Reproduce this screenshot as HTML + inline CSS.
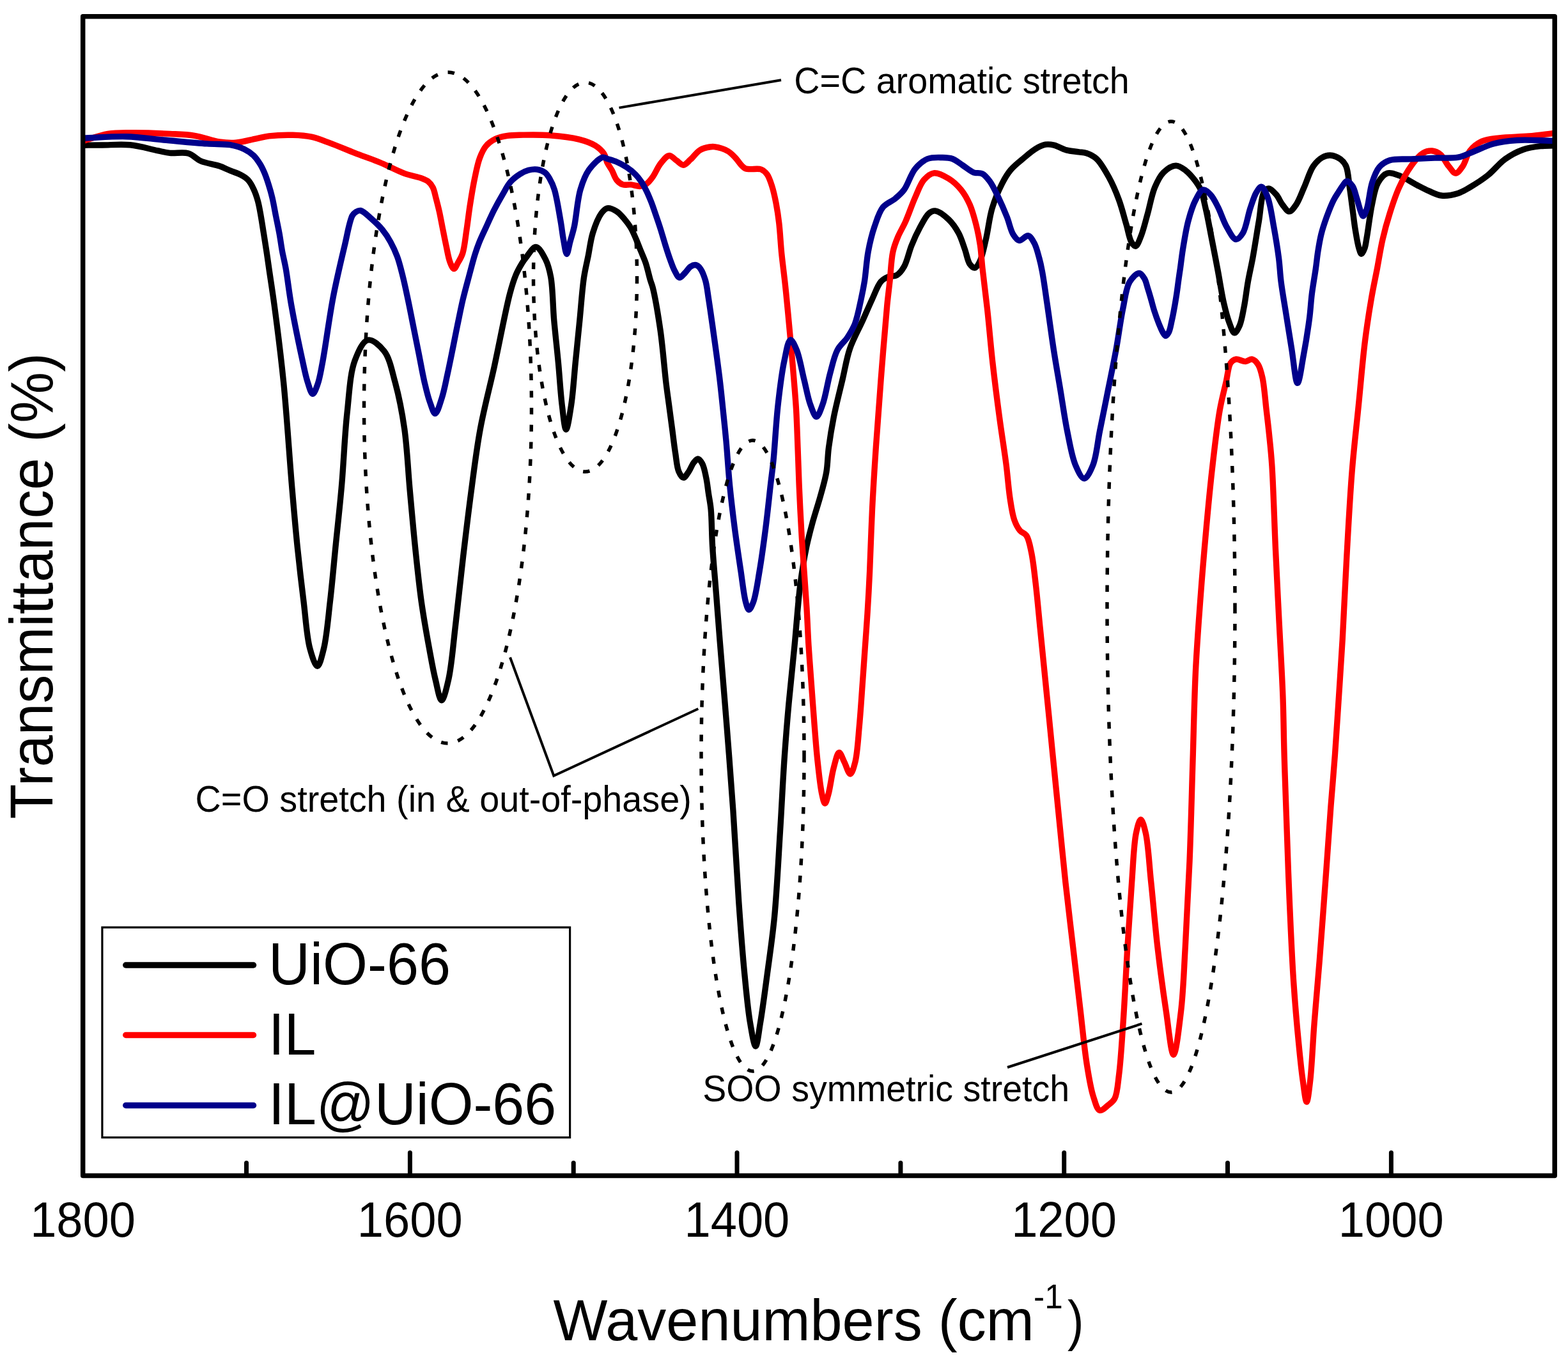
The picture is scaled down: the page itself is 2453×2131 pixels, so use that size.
<!DOCTYPE html><html><head><meta charset="utf-8"><title>FTIR spectra</title>
<style>html,body{margin:0;padding:0;background:#fff;}svg{display:block;}text{font-family:'Liberation Sans', Arial, Helvetica, sans-serif;fill:#000;}</style></head><body>
<svg width="2453" height="2131" viewBox="0 0 2453 2131">
<rect x="0" y="0" width="2453" height="2131" fill="#fff"/>
<defs><clipPath id="pa"><rect x="129.7" y="25.8" width="2302.5" height="1813.6"/></clipPath></defs>
<g clip-path="url(#pa)" fill="none" stroke-width="9.4" stroke-linejoin="round" stroke-linecap="round">
<path stroke="#000000" d="M129.0,227.2 C139.3,227.1 148.8,227.1 160.0,227.0 C173.3,226.9 189.3,225.4 203.7,226.8 C218.1,228.2 234.9,233.3 246.3,235.6 C254.0,237.2 258.5,238.6 265.7,239.4 C274.4,240.3 286.4,237.5 294.8,240.0 C302.3,242.2 306.8,248.8 314.2,252.0 C322.7,255.7 335.0,256.9 343.3,259.8 C349.7,262.0 354.4,264.6 360.0,266.9 C365.6,269.2 371.8,271.0 376.7,273.6 C381.0,275.9 384.7,278.0 387.9,281.4 C391.5,285.2 394.3,290.6 396.8,295.9 C399.6,301.7 401.7,308.2 403.5,314.9 C405.4,322.0 406.6,329.3 408.0,337.2 C409.6,346.0 411.0,355.8 412.5,365.1 C414.0,374.4 415.5,383.8 416.9,393.0 C418.3,402.1 419.3,409.3 420.8,420.0 C423.0,435.5 426.1,454.4 429.1,477.0 C433.5,509.8 439.2,554.5 443.6,598.1 C448.7,649.2 452.9,717.6 457.0,765.0 C460.0,800.2 462.3,827.0 465.4,857.0 C468.4,885.9 471.7,914.6 475.1,941.8 C478.2,967.0 479.8,996.2 484.8,1014.5 C488.0,1026.2 492.9,1042.5 496.5,1042.4 C500.1,1042.3 503.7,1026.2 506.6,1014.5 C511.1,996.1 513.4,967.0 516.3,941.8 C519.5,914.6 521.9,886.2 524.8,857.0 C527.9,825.8 531.6,793.6 534.5,760.0 C537.7,723.7 539.2,681.3 543.0,646.6 C546.3,616.9 547.4,584.7 555.1,564.2 C560.3,550.3 567.5,533.6 575.7,532.0 C583.1,530.5 594.5,540.9 601.2,549.7 C609.8,561.0 613.2,580.1 618.1,598.1 C624.0,619.7 629.0,644.9 632.7,670.8 C636.9,700.1 638.2,733.8 641.0,765.0 C643.8,795.9 646.5,827.0 649.6,857.0 C652.6,885.9 655.5,914.7 659.3,941.8 C662.9,967.0 667.5,992.7 671.5,1014.5 C674.8,1032.3 677.5,1048.5 681.1,1063.0 C684.1,1075.0 687.4,1095.6 690.8,1095.7 C694.2,1095.8 698.6,1076.6 701.7,1063.0 C706.6,1041.5 709.0,1008.2 712.6,978.1 C716.7,944.0 720.6,904.6 724.8,869.1 C728.8,835.3 732.6,803.0 737.0,770.0 C741.4,736.9 745.3,703.6 751.4,670.8 C757.4,638.2 765.8,607.5 773.2,573.9 C781.2,537.5 790.7,485.6 797.5,460.0 C801.0,446.7 803.5,438.7 807.1,430.0 C810.1,422.9 813.9,416.4 816.9,411.5 C819.0,408.1 820.2,406.4 822.7,403.3 C826.6,398.6 833.4,386.2 838.5,386.5 C843.7,386.8 849.7,398.5 853.5,406.0 C857.6,414.1 859.6,422.2 861.7,433.5 C864.9,450.8 864.8,478.2 866.7,500.5 C868.7,522.8 871.3,545.2 873.4,567.5 C875.5,589.8 876.9,615.4 879.3,634.5 C881.1,648.8 883.1,671.9 885.5,672.0 C887.9,672.1 891.3,648.9 893.5,634.5 C896.5,615.5 898.0,589.8 900.2,567.5 C902.4,545.2 904.7,522.8 906.9,500.5 C909.1,478.2 910.8,451.9 913.6,433.5 C915.6,420.4 918.0,411.3 920.3,400.0 C922.6,388.3 923.9,375.8 927.4,364.5 C930.8,353.6 936.0,340.1 940.9,333.5 C943.8,329.6 946.4,326.5 950.0,325.8 C954.1,325.0 960.3,328.0 964.7,330.7 C969.4,333.6 973.3,338.6 977.0,343.0 C980.6,347.3 983.9,351.5 986.8,356.5 C990.1,362.0 992.7,368.7 995.4,374.9 C998.0,381.0 1000.3,387.2 1002.8,393.3 C1005.3,399.4 1007.9,404.9 1010.2,411.7 C1012.9,419.8 1015.4,431.7 1017.5,438.7 C1018.9,443.3 1019.8,444.6 1021.2,450.0 C1024.4,462.9 1029.6,492.9 1033.0,516.3 C1036.8,542.5 1039.4,577.8 1042.1,600.0 C1043.9,614.8 1045.4,624.5 1047.0,636.8 C1048.6,649.1 1050.3,661.4 1051.9,673.7 C1053.5,686.0 1055.0,699.2 1056.8,710.5 C1058.3,720.2 1058.9,731.0 1061.8,737.6 C1063.7,742.0 1066.5,747.3 1069.1,747.4 C1071.8,747.5 1075.1,741.3 1077.7,737.6 C1080.5,733.6 1082.4,727.5 1085.1,724.0 C1087.2,721.3 1089.6,717.8 1091.8,717.9 C1094.1,718.0 1096.7,721.9 1098.6,725.3 C1101.5,730.5 1103.1,739.8 1104.7,747.4 C1106.4,755.3 1107.2,763.7 1108.4,771.9 C1109.6,780.1 1111.1,786.5 1112.1,796.5 C1113.6,811.8 1113.3,834.1 1114.6,855.0 C1116.1,879.1 1118.8,907.7 1120.7,932.7 C1122.5,955.9 1123.8,973.7 1125.9,1000.0 C1128.8,1037.1 1133.3,1089.3 1136.8,1134.0 C1140.3,1178.7 1143.8,1222.6 1146.9,1268.0 C1150.1,1315.0 1152.6,1366.8 1155.8,1411.6 C1158.6,1451.2 1161.4,1489.3 1164.7,1523.2 C1167.5,1551.6 1170.0,1580.4 1173.7,1601.3 C1176.2,1615.6 1179.5,1637.0 1182.1,1637.0 C1184.7,1637.0 1186.9,1615.5 1189.3,1601.3 C1192.9,1580.3 1196.8,1550.1 1200.4,1523.2 C1204.2,1494.4 1208.5,1466.7 1211.6,1433.9 C1215.4,1393.8 1217.8,1343.0 1220.5,1300.0 C1223.0,1260.0 1224.8,1219.7 1227.3,1184.2 C1229.4,1154.0 1231.4,1128.9 1234.0,1100.5 C1236.7,1070.9 1240.0,1040.7 1243.0,1010.0 C1246.1,978.3 1248.4,941.4 1252.1,913.3 C1255.0,891.4 1258.2,872.5 1261.8,855.1 C1264.8,840.8 1268.0,829.2 1271.5,816.3 C1275.1,803.4 1279.5,790.5 1283.1,777.6 C1286.6,764.7 1290.6,751.8 1292.8,738.8 C1295.0,725.9 1294.7,713.6 1296.5,700.0 C1298.5,684.8 1301.1,668.8 1304.4,652.1 C1308.1,633.6 1313.6,612.4 1318.0,593.9 C1322.0,577.0 1324.3,560.8 1329.6,545.4 C1334.7,530.5 1342.9,516.3 1349.0,502.8 C1354.5,490.6 1359.4,478.8 1364.5,467.9 C1369.1,458.2 1372.9,446.6 1378.1,440.7 C1381.6,436.7 1385.5,434.7 1389.7,433.0 C1393.8,431.4 1398.9,432.9 1402.8,430.7 C1407.3,428.1 1411.0,423.1 1414.4,417.2 C1419.2,408.9 1421.7,394.8 1426.0,384.2 C1430.1,374.1 1434.8,363.9 1439.6,355.1 C1443.9,347.3 1448.4,337.8 1453.2,333.8 C1456.3,331.2 1459.1,329.5 1462.9,329.9 C1468.7,330.4 1478.1,337.8 1484.2,343.5 C1490.4,349.4 1495.5,357.1 1499.7,364.8 C1503.9,372.6 1506.4,381.7 1509.4,390.0 C1512.2,397.9 1513.7,408.4 1517.2,413.3 C1519.4,416.4 1522.5,419.4 1524.9,419.1 C1527.7,418.8 1530.4,414.0 1532.7,409.4 C1536.7,401.6 1539.4,387.1 1542.4,374.5 C1545.9,359.7 1547.6,341.1 1552.1,326.0 C1556.2,312.2 1562.1,298.1 1567.6,287.3 C1571.9,278.9 1575.5,272.5 1581.1,265.9 C1587.0,258.8 1595.6,252.3 1602.5,246.5 C1608.5,241.5 1614.1,236.5 1619.9,233.0 C1625.0,229.9 1630.3,227.1 1635.4,226.2 C1640.0,225.4 1644.2,226.0 1649.0,227.1 C1655.0,228.5 1661.8,233.1 1668.4,234.9 C1674.8,236.6 1682.1,236.9 1687.8,237.8 C1692.3,238.5 1695.8,238.2 1700.0,239.7 C1705.0,241.4 1710.6,243.9 1715.5,248.5 C1722.4,254.9 1729.2,267.2 1734.9,277.6 C1740.9,288.5 1745.9,300.4 1750.4,312.5 C1755.0,324.9 1758.5,339.4 1762.0,351.2 C1764.9,361.1 1766.4,372.6 1769.8,378.4 C1771.8,381.8 1774.4,385.5 1776.6,385.2 C1779.6,384.7 1782.6,375.3 1785.3,368.7 C1788.9,359.7 1791.7,347.4 1795.0,335.7 C1798.8,322.4 1801.6,304.9 1806.6,293.1 C1810.5,283.9 1814.3,275.6 1820.2,269.8 C1825.5,264.6 1833.5,259.2 1839.6,259.1 C1845.0,259.0 1850.4,263.4 1855.1,266.9 C1860.1,270.7 1864.8,276.3 1868.7,281.4 C1872.5,286.3 1875.7,290.7 1878.4,296.9 C1881.9,304.9 1883.6,315.0 1886.1,326.0 C1889.4,340.1 1892.6,358.2 1895.8,374.5 C1899.1,391.2 1902.3,408.2 1905.5,425.0 C1908.6,441.7 1911.4,460.6 1914.7,474.9 C1917.3,486.0 1919.6,495.7 1922.8,504.0 C1925.3,510.5 1928.2,520.7 1931.2,520.9 C1933.7,521.1 1936.9,514.6 1939.1,509.8 C1942.4,502.6 1944.0,491.3 1946.1,480.7 C1948.6,468.3 1950.1,453.2 1952.5,440.0 C1954.7,427.5 1957.3,417.2 1959.8,403.6 C1962.9,386.5 1966.4,363.5 1969.5,345.4 C1972.2,329.5 1972.7,308.4 1977.3,300.8 C1979.4,297.3 1982.2,294.9 1985.0,295.0 C1988.5,295.1 1993.3,300.8 1996.7,304.7 C2000.5,309.0 2002.7,315.7 2006.3,320.2 C2009.6,324.3 2013.4,330.9 2017.0,330.9 C2020.6,330.9 2024.4,324.9 2027.7,320.2 C2032.3,313.6 2035.8,302.9 2040.0,293.5 C2044.7,283.0 2048.8,268.3 2054.5,260.0 C2058.7,254.0 2063.5,249.3 2068.4,246.5 C2072.4,244.2 2076.6,242.8 2081.0,243.0 C2086.0,243.2 2092.6,245.9 2096.8,248.9 C2100.7,251.7 2103.5,254.9 2105.8,260.0 C2109.3,267.9 2109.7,282.3 2111.4,293.5 C2113.1,304.7 2114.4,315.8 2115.9,327.0 C2117.4,338.1 2118.6,349.8 2120.4,360.4 C2122.0,370.1 2123.8,381.6 2125.9,388.3 C2127.1,392.2 2128.3,397.2 2129.8,397.3 C2131.3,397.4 2133.6,391.9 2134.9,388.3 C2136.6,383.7 2136.9,378.7 2138.2,371.6 C2140.5,359.0 2143.2,334.3 2146.6,318.9 C2149.3,306.5 2150.9,294.2 2155.8,285.8 C2159.6,279.3 2164.8,272.7 2170.5,271.0 C2175.9,269.4 2182.3,272.3 2188.9,274.7 C2197.4,277.8 2208.3,285.2 2216.6,289.5 C2223.3,293.0 2228.6,296.0 2235.0,298.7 C2241.5,301.5 2248.0,305.2 2255.2,306.0 C2263.2,306.8 2273.3,304.8 2281.0,302.4 C2287.9,300.3 2292.8,297.0 2299.5,293.1 C2307.9,288.2 2318.2,281.8 2327.1,274.7 C2336.6,267.2 2345.0,255.8 2354.7,248.9 C2363.5,242.6 2372.8,237.6 2382.3,234.2 C2391.3,231.0 2401.3,229.7 2410.0,228.7 C2417.7,227.8 2424.7,228.1 2432.0,227.8"/>
<path stroke="#ff0000" d="M129.0,221.0 C142.3,217.1 155.5,211.6 168.8,209.4 C181.7,207.3 193.4,207.9 207.6,207.8 C225.0,207.7 248.3,208.5 265.7,209.4 C279.9,210.1 291.7,210.2 304.5,212.3 C317.5,214.4 331.7,220.3 343.3,222.0 C352.5,223.4 359.7,223.9 368.5,223.3 C378.5,222.6 390.6,219.0 400.0,217.1 C407.7,215.6 412.8,213.9 420.8,212.9 C431.4,211.6 446.5,211.0 458.2,211.3 C468.5,211.6 477.7,212.1 487.3,214.2 C497.1,216.3 506.0,220.1 516.3,223.9 C528.4,228.3 542.1,234.4 555.1,239.4 C568.0,244.4 581.0,248.7 593.9,254.0 C606.9,259.4 620.8,267.1 632.7,271.4 C642.5,274.9 653.2,276.5 660.0,279.1 C664.3,280.7 667.2,281.8 670.0,284.1 C672.9,286.4 675.2,289.4 677.1,293.1 C679.5,297.7 680.5,304.3 682.1,310.2 C683.8,316.6 685.5,323.2 687.1,330.3 C688.9,338.2 690.3,346.7 692.1,355.4 C694.0,365.0 696.1,375.9 698.2,385.5 C700.1,394.3 701.6,404.3 704.2,410.6 C705.9,414.9 708.1,420.6 710.2,420.6 C712.2,420.6 714.4,414.6 716.5,411.0 C719.0,406.7 721.7,402.6 723.7,396.5 C726.7,387.3 728.0,372.4 729.9,360.0 C731.9,347.0 733.3,333.5 735.4,320.2 C737.5,306.8 739.7,292.7 742.4,280.0 C744.9,268.3 747.1,256.0 750.7,246.7 C753.5,239.4 756.2,233.2 760.5,228.2 C764.5,223.5 769.8,219.8 775.3,217.2 C780.9,214.5 787.1,213.3 793.7,212.3 C801.2,211.1 808.9,211.3 818.2,211.1 C830.3,210.9 845.8,210.6 860.0,211.7 C875.0,212.8 893.1,214.8 906.0,218.1 C915.8,220.6 924.4,223.6 931.2,227.8 C936.8,231.3 941.6,235.7 944.8,240.4 C947.7,244.7 947.9,250.1 950.0,254.6 C952.1,258.9 955.0,262.5 957.4,266.8 C959.9,271.4 961.5,277.8 964.7,281.6 C967.4,284.9 970.9,287.7 974.6,288.9 C978.3,290.1 982.6,288.5 986.8,288.9 C991.5,289.3 997.2,291.8 1001.6,291.4 C1005.3,291.0 1008.4,289.8 1011.4,287.7 C1015.0,285.2 1018.0,281.1 1021.2,276.7 C1025.4,271.0 1028.8,261.6 1033.5,255.8 C1037.6,250.8 1042.6,243.8 1047.0,243.5 C1050.8,243.2 1054.4,248.4 1058.1,250.9 C1061.8,253.3 1065.5,258.3 1069.1,258.2 C1072.8,258.1 1076.4,253.0 1080.2,249.6 C1084.9,245.5 1089.5,238.2 1094.9,234.9 C1099.6,232.0 1105.8,230.7 1110.0,230.0 C1112.9,229.5 1114.3,229.3 1117.4,229.7 C1122.7,230.4 1133.0,233.3 1138.7,236.5 C1143.4,239.1 1146.0,242.4 1150.0,246.3 C1154.9,251.1 1159.0,260.2 1165.6,263.4 C1172.4,266.7 1184.5,262.6 1190.6,265.0 C1194.8,266.7 1197.4,269.2 1200.0,272.8 C1203.4,277.4 1205.6,284.7 1207.8,291.6 C1210.4,299.6 1212.3,308.9 1214.1,318.1 C1216.0,328.1 1217.5,337.9 1218.8,349.4 C1220.4,363.4 1221.2,380.7 1222.7,396.3 C1224.3,411.9 1226.4,427.5 1228.1,443.1 C1229.8,458.7 1231.1,472.1 1232.8,490.0 C1235.1,514.0 1238.2,548.1 1240.4,574.5 C1242.3,597.7 1244.2,618.6 1245.5,640.0 C1246.7,660.4 1247.2,680.2 1248.0,700.0 C1248.8,719.5 1249.2,737.4 1250.1,758.2 C1251.1,782.2 1252.6,811.7 1254.0,835.7 C1255.2,856.5 1256.7,874.5 1258.0,893.9 C1259.3,913.3 1260.8,932.7 1262.0,952.1 C1263.2,971.4 1263.8,990.8 1265.0,1010.0 C1266.2,1029.1 1267.7,1047.2 1269.1,1067.0 C1270.7,1088.4 1272.4,1112.4 1274.1,1134.0 C1275.7,1154.2 1277.1,1173.8 1279.2,1192.6 C1281.1,1210.0 1283.2,1231.3 1285.9,1242.8 C1287.3,1249.1 1288.9,1257.0 1290.6,1257.0 C1292.3,1257.0 1294.2,1248.9 1295.9,1242.8 C1298.8,1232.6 1301.0,1212.8 1304.3,1201.0 C1306.8,1191.9 1309.6,1177.7 1312.7,1177.5 C1315.3,1177.3 1318.2,1187.3 1321.0,1192.6 C1324.0,1198.4 1327.4,1211.1 1330.2,1211.0 C1333.0,1210.9 1335.7,1200.6 1337.8,1192.6 C1341.4,1178.7 1342.6,1154.2 1344.5,1134.0 C1346.5,1112.4 1347.9,1088.4 1349.5,1067.0 C1350.9,1047.2 1352.2,1028.4 1353.5,1010.0 C1354.7,992.8 1355.9,977.8 1357.0,960.0 C1358.3,939.5 1359.5,918.0 1360.6,893.9 C1362.0,864.7 1362.9,829.2 1364.5,796.9 C1366.1,764.6 1368.1,733.0 1370.3,700.0 C1372.6,665.4 1375.3,630.1 1378.1,593.9 C1381.1,556.0 1385.1,505.7 1387.8,477.6 C1389.4,461.6 1390.6,453.2 1392.0,440.0 C1393.6,425.4 1394.1,406.5 1396.9,393.9 C1398.9,384.7 1401.5,378.2 1404.7,370.6 C1408.0,362.7 1412.3,356.2 1416.3,347.4 C1421.3,336.2 1426.6,320.3 1431.8,308.6 C1436.3,298.6 1439.7,287.9 1445.4,281.4 C1449.9,276.3 1455.0,271.5 1460.9,270.8 C1467.7,270.0 1477.1,275.2 1484.2,279.5 C1491.4,283.9 1498.1,290.2 1503.6,296.9 C1509.2,303.7 1513.4,311.6 1517.2,320.2 C1521.3,329.6 1524.2,340.6 1526.9,351.2 C1529.7,362.0 1531.8,372.9 1533.5,384.2 C1535.2,395.8 1535.5,406.4 1537.0,420.0 C1539.0,438.2 1542.0,460.9 1544.5,483.6 C1547.4,509.8 1549.8,540.1 1553.0,568.4 C1556.2,596.7 1559.9,626.0 1563.6,653.3 C1567.0,678.9 1571.3,704.9 1574.2,727.5 C1576.6,746.5 1577.7,764.5 1580.1,780.0 C1582.0,792.5 1583.6,804.4 1586.8,813.5 C1589.2,820.2 1592.1,826.0 1595.7,830.2 C1598.6,833.7 1603.1,834.0 1605.8,838.0 C1609.8,843.9 1611.4,854.4 1613.6,864.8 C1616.5,878.6 1618.2,896.3 1620.3,914.0 C1622.7,934.6 1624.8,958.7 1627.0,981.0 C1629.2,1003.3 1631.5,1025.6 1633.7,1047.9 C1635.9,1070.2 1638.2,1092.7 1640.4,1114.9 C1642.6,1136.8 1644.4,1156.0 1646.8,1180.0 C1649.8,1209.9 1653.5,1246.9 1656.8,1280.4 C1660.2,1313.9 1663.3,1347.3 1666.9,1380.8 C1670.5,1414.3 1674.7,1447.8 1678.6,1481.3 C1682.5,1514.8 1686.5,1549.8 1690.3,1581.7 C1693.7,1610.9 1696.4,1641.1 1700.3,1665.4 C1703.3,1684.3 1706.1,1702.5 1710.4,1715.6 C1713.3,1724.5 1715.9,1735.9 1720.4,1737.3 C1724.1,1738.4 1729.8,1732.2 1733.8,1729.0 C1737.6,1726.0 1741.2,1723.9 1743.8,1718.9 C1748.0,1710.8 1748.6,1696.9 1750.5,1682.1 C1753.4,1659.9 1755.1,1628.6 1757.2,1598.4 C1759.7,1562.6 1761.6,1518.8 1763.9,1481.3 C1766.1,1446.5 1768.2,1412.1 1770.6,1380.8 C1772.7,1353.4 1773.6,1321.4 1777.3,1303.8 C1779.3,1294.2 1782.2,1282.1 1784.7,1282.1 C1787.2,1282.1 1790.2,1294.2 1792.4,1303.8 C1796.4,1321.4 1797.9,1353.4 1800.8,1380.8 C1804.1,1412.1 1806.9,1447.8 1810.8,1481.3 C1814.7,1514.8 1819.6,1551.4 1824.2,1581.7 C1828.0,1606.8 1832.0,1650.3 1835.9,1650.3 C1839.8,1650.3 1844.6,1606.8 1847.6,1581.7 C1851.2,1551.5 1852.2,1517.2 1854.3,1481.3 C1856.7,1439.9 1859.1,1393.8 1861.0,1347.4 C1863.1,1297.1 1864.4,1240.8 1866.0,1190.0 C1867.5,1142.3 1868.3,1095.2 1870.4,1051.2 C1872.3,1011.3 1875.1,975.2 1877.9,937.3 C1880.7,899.3 1884.1,859.7 1887.4,823.5 C1890.4,790.4 1893.3,759.6 1896.9,728.7 C1900.3,699.0 1904.0,665.5 1908.3,641.4 C1911.4,624.0 1915.2,610.2 1918.2,597.0 C1920.7,586.3 1921.3,573.7 1925.1,568.0 C1927.3,564.7 1930.0,562.8 1933.3,562.1 C1937.4,561.3 1943.8,565.8 1948.4,565.6 C1952.2,565.4 1955.7,561.4 1958.9,562.1 C1962.3,562.8 1965.7,566.5 1968.2,570.3 C1971.5,575.3 1973.1,582.5 1975.0,591.0 C1977.8,603.8 1979.2,624.5 1981.0,640.0 C1982.6,654.0 1984.1,666.0 1985.5,680.0 C1987.1,695.4 1988.6,708.5 1989.9,728.7 C1992.1,762.1 1993.6,818.9 1995.6,861.5 C1997.4,900.9 1999.3,937.4 2001.2,975.3 C2003.1,1013.2 2005.6,1053.3 2006.9,1089.1 C2008.1,1121.1 2008.2,1149.2 2009.1,1180.0 C2010.0,1211.9 2011.2,1242.5 2012.4,1277.2 C2013.8,1317.3 2015.3,1363.5 2017.2,1406.7 C2019.1,1449.9 2021.0,1496.2 2023.7,1536.3 C2026.0,1571.0 2029.0,1605.2 2031.8,1633.4 C2033.9,1655.3 2035.9,1675.1 2038.3,1691.7 C2040.1,1704.1 2042.2,1724.1 2044.1,1724.1 C2046.0,1724.1 2048.0,1705.3 2049.6,1691.7 C2052.3,1669.1 2053.7,1631.7 2056.1,1601.0 C2058.6,1569.2 2061.5,1538.6 2064.2,1503.9 C2067.4,1463.8 2070.8,1416.1 2073.9,1374.3 C2076.8,1335.3 2079.4,1295.6 2082.0,1261.0 C2084.2,1231.7 2086.5,1207.7 2088.5,1180.0 C2090.6,1150.8 2092.5,1119.9 2094.5,1090.0 C2096.4,1060.2 2098.3,1033.3 2100.2,1000.7 C2102.5,961.1 2104.4,913.3 2106.9,869.3 C2109.4,824.8 2111.9,776.7 2115.3,735.2 C2118.2,699.3 2122.0,668.2 2125.3,634.7 C2128.7,601.2 2131.6,564.2 2135.4,534.1 C2138.5,509.4 2141.9,487.3 2145.4,467.0 C2148.3,449.9 2151.5,435.6 2154.5,420.0 C2157.4,404.6 2159.7,388.9 2163.1,374.2 C2166.3,360.2 2169.9,347.1 2174.2,333.7 C2178.5,320.1 2183.1,305.7 2188.9,293.1 C2194.3,281.3 2200.7,269.4 2207.4,260.0 C2213.1,252.0 2219.4,243.5 2225.8,239.7 C2230.6,236.8 2235.8,235.6 2240.5,236.0 C2245.0,236.4 2249.5,238.4 2253.4,241.6 C2258.3,245.6 2261.9,254.8 2266.3,260.0 C2269.9,264.3 2273.6,271.0 2277.3,271.0 C2281.0,271.0 2285.1,264.7 2288.4,260.0 C2292.7,253.8 2294.4,242.6 2299.5,236.0 C2304.4,229.8 2310.7,224.7 2317.9,221.3 C2325.8,217.6 2335.1,217.1 2345.5,215.8 C2358.9,214.1 2376.8,214.3 2391.6,213.0 C2405.5,211.8 2418.5,209.9 2432.0,208.4"/>
<path stroke="#00008b" d="M129.0,216.2 C152.0,215.4 175.9,213.1 197.9,213.7 C218.1,214.3 235.9,217.2 256.0,219.0 C277.7,220.9 304.8,223.6 323.9,224.9 C337.8,225.9 349.5,224.9 360.0,226.7 C368.4,228.2 375.9,230.3 382.3,233.4 C387.9,236.1 392.7,239.4 396.8,243.4 C400.8,247.3 404.0,252.2 406.9,256.8 C409.6,261.1 411.5,265.3 413.6,270.2 C416.0,275.9 418.3,282.7 420.3,289.2 C422.4,295.8 424.2,302.0 425.9,309.3 C427.9,317.8 429.6,327.9 431.4,337.2 C433.3,346.5 435.3,355.8 437.0,365.1 C438.7,374.4 439.8,383.8 441.5,393.0 C443.2,402.1 445.2,409.3 447.1,420.0 C449.9,435.5 452.0,456.2 455.7,477.0 C460.2,502.5 467.9,539.7 472.7,561.8 C475.8,576.1 477.8,587.1 481.0,597.0 C483.5,604.5 486.4,616.2 489.2,616.3 C491.7,616.4 494.8,607.2 497.0,601.0 C500.1,592.4 501.5,582.8 504.2,569.0 C509.0,544.3 515.0,497.1 521.2,464.8 C526.7,436.3 533.5,408.1 539.0,385.0 C543.3,367.1 546.7,345.4 551.2,337.4 C553.1,334.1 554.8,332.8 557.0,331.5 C559.1,330.2 561.4,329.0 564.2,329.5 C568.9,330.4 575.7,337.6 581.2,342.4 C587.0,347.5 593.1,353.2 598.1,359.3 C603.0,365.3 607.1,371.5 610.9,378.4 C614.9,385.6 618.4,393.3 621.5,401.7 C624.9,410.9 627.2,420.8 629.9,431.4 C632.9,443.3 635.6,456.4 638.4,469.5 C641.3,483.2 644.1,497.8 646.9,511.9 C649.7,526.0 652.6,540.2 655.4,554.3 C658.2,568.4 660.8,583.6 663.8,596.7 C666.5,608.1 669.0,619.4 672.3,628.5 C674.9,635.6 677.9,647.0 680.8,647.0 C684.2,647.0 688.4,631.3 691.4,622.1 C694.9,611.3 697.1,598.7 699.9,586.1 C702.9,572.4 706.0,556.7 708.8,543.0 C711.3,530.5 713.5,519.1 716.0,507.0 C718.6,494.6 721.1,481.7 724.0,469.3 C726.9,457.2 730.1,445.5 733.3,433.6 C736.5,421.7 740.0,407.7 743.1,397.9 C745.3,390.9 746.9,386.3 749.4,380.0 C752.4,372.5 756.4,364.2 760.2,356.0 C764.2,347.2 768.4,337.6 772.8,328.9 C777.1,320.5 781.8,312.1 786.3,304.4 C790.4,297.4 793.8,290.2 798.6,284.7 C802.9,279.7 808.3,275.7 813.3,272.5 C817.7,269.7 822.2,267.5 826.8,266.3 C831.2,265.1 836.0,264.5 840.3,265.1 C844.6,265.7 849.3,267.5 852.6,270.0 C855.8,272.4 857.7,275.9 860.0,279.8 C862.8,284.5 865.1,289.4 867.3,296.6 C871.0,308.4 874.4,330.9 876.9,345.1 C878.9,356.2 879.7,365.8 881.5,375.0 C883.0,383.1 884.8,397.5 886.6,397.5 C888.3,397.5 890.1,384.8 892.0,378.0 C894.0,370.6 896.2,364.3 898.3,354.8 C901.6,339.8 903.2,312.7 908.0,296.6 C911.6,284.4 915.3,274.2 921.5,265.6 C927.2,257.7 937.4,247.4 942.9,246.2 C945.7,245.6 947.2,247.5 950.0,248.4 C954.0,249.7 959.8,251.2 964.7,253.3 C970.0,255.6 975.7,258.6 980.7,261.9 C985.6,265.2 990.2,269.0 994.2,273.0 C998.0,276.8 1001.1,281.0 1004.0,285.3 C1006.8,289.6 1009.0,294.0 1011.4,298.8 C1014.0,304.1 1016.4,310.0 1018.8,316.0 C1021.4,322.6 1023.7,329.8 1026.1,336.8 C1028.6,344.0 1031.1,351.3 1033.5,358.9 C1036.0,366.9 1038.4,375.5 1040.9,383.5 C1043.3,391.1 1045.6,398.6 1048.2,405.6 C1050.6,412.1 1052.8,418.9 1055.6,424.0 C1057.8,428.1 1060.2,434.1 1063.0,434.4 C1065.6,434.7 1068.8,429.7 1071.6,427.0 C1074.6,424.1 1077.0,419.2 1080.2,417.2 C1082.8,415.5 1086.2,414.1 1088.8,414.7 C1091.5,415.3 1094.0,418.0 1096.1,420.9 C1099.1,425.1 1101.5,431.9 1103.5,438.7 C1106.0,447.1 1106.7,456.1 1108.6,467.9 C1111.4,485.8 1115.3,514.0 1118.3,535.7 C1121.1,555.8 1123.7,574.7 1126.0,593.9 C1128.3,612.8 1130.2,632.9 1132.0,650.0 C1133.5,664.5 1134.6,674.9 1136.0,690.0 C1137.8,709.7 1139.3,735.5 1141.5,758.2 C1143.7,780.9 1146.4,803.4 1149.3,826.0 C1152.2,848.6 1155.9,873.2 1159.0,893.9 C1161.6,911.4 1163.7,931.9 1166.7,942.4 C1168.2,947.7 1169.7,953.9 1171.6,954.0 C1173.6,954.1 1176.3,947.8 1178.4,942.4 C1182.4,932.0 1185.1,911.5 1188.1,893.9 C1191.6,873.2 1194.9,848.6 1197.8,826.0 C1200.7,803.4 1203.3,777.6 1205.5,758.2 C1207.2,743.7 1208.5,735.3 1210.0,720.0 C1212.3,696.8 1214.1,659.9 1217.2,632.7 C1219.9,608.6 1222.9,583.3 1226.9,564.8 C1229.7,551.7 1232.6,532.3 1236.5,531.8 C1239.4,531.4 1243.3,540.5 1246.2,547.4 C1250.9,558.5 1254.2,579.1 1257.9,593.9 C1261.3,607.4 1263.7,622.2 1267.6,632.7 C1270.5,640.5 1274.1,652.1 1277.3,652.1 C1280.5,652.1 1284.0,640.8 1287.0,632.7 C1291.5,620.4 1294.5,599.2 1298.6,584.2 C1302.2,571.0 1304.9,557.3 1310.2,547.4 C1314.4,539.4 1321.2,534.8 1325.7,528.0 C1330.2,521.2 1334.1,515.0 1337.4,506.6 C1341.6,495.8 1344.5,479.8 1347.1,467.9 C1349.3,457.9 1350.8,450.5 1352.5,440.0 C1354.6,426.6 1355.5,408.5 1358.2,393.9 C1360.7,380.3 1363.8,367.2 1367.9,355.1 C1371.7,344.0 1375.1,331.8 1381.4,324.1 C1386.6,317.7 1395.1,315.3 1400.8,310.5 C1405.9,306.2 1410.0,302.8 1414.4,296.9 C1420.5,288.6 1424.8,272.4 1431.8,264.0 C1437.5,257.1 1444.0,251.4 1451.2,248.5 C1458.2,245.7 1467.5,246.4 1474.5,246.5 C1480.2,246.6 1485.0,246.7 1490.0,248.5 C1495.4,250.4 1500.2,254.8 1505.5,258.2 C1511.2,261.9 1517.3,267.6 1523.0,269.8 C1527.6,271.5 1532.5,269.7 1536.5,271.7 C1541.0,273.9 1544.5,278.4 1548.2,283.4 C1553.1,289.9 1557.5,299.7 1561.8,308.6 C1566.5,318.3 1571.3,329.5 1575.3,339.6 C1579.0,348.9 1580.9,360.2 1585.0,366.7 C1587.8,371.2 1591.0,375.9 1594.7,376.4 C1598.7,376.9 1604.4,368.0 1608.3,368.7 C1612.1,369.4 1615.3,375.5 1618.0,380.3 C1621.4,386.5 1623.6,395.9 1625.7,403.6 C1627.7,410.8 1628.9,416.4 1630.5,425.0 C1632.9,437.8 1635.2,455.3 1637.8,473.0 C1641.1,495.0 1644.7,523.4 1648.4,547.2 C1651.8,569.3 1655.5,589.7 1659.0,610.9 C1662.5,632.1 1665.5,654.3 1669.6,674.5 C1673.4,693.0 1676.7,714.2 1682.4,727.5 C1686.3,736.6 1691.6,748.7 1696.2,748.7 C1700.8,748.7 1706.2,736.6 1709.9,727.5 C1715.3,714.2 1716.8,693.0 1720.5,674.5 C1724.6,654.3 1729.1,632.1 1733.3,610.9 C1737.6,589.7 1742.1,568.5 1746.0,547.2 C1749.9,526.0 1752.7,502.6 1756.6,483.6 C1759.9,468.0 1761.4,450.9 1767.2,441.2 C1771.1,434.6 1777.8,427.4 1782.0,427.5 C1785.2,427.6 1788.0,432.1 1790.2,435.6 C1792.8,439.7 1793.9,446.1 1795.6,451.3 C1797.3,456.5 1798.7,461.4 1800.3,466.9 C1802.1,473.0 1803.7,479.9 1805.8,486.4 C1807.9,492.9 1810.4,500.0 1812.8,505.9 C1814.9,511.0 1817.0,516.5 1819.1,520.0 C1820.5,522.4 1821.9,525.4 1823.4,525.5 C1825.0,525.6 1827.0,522.6 1828.4,520.0 C1830.6,515.9 1831.7,508.1 1833.1,502.0 C1834.6,495.7 1835.8,489.3 1837.0,482.5 C1838.4,475.1 1839.7,466.9 1840.9,459.1 C1842.1,451.3 1843.1,442.6 1844.1,435.6 C1844.9,429.9 1845.5,426.0 1846.4,420.0 C1847.6,411.6 1848.7,401.0 1850.5,390.0 C1852.7,376.6 1855.3,359.0 1859.0,345.4 C1862.2,333.5 1866.0,321.2 1870.6,312.5 C1874.1,306.0 1878.0,297.6 1882.3,296.9 C1885.9,296.3 1890.4,301.0 1893.9,304.7 C1898.4,309.4 1901.7,316.7 1905.5,324.1 C1910.1,333.1 1913.9,346.2 1919.1,355.1 C1923.5,362.6 1928.9,374.0 1933.6,374.5 C1937.2,374.9 1941.2,369.7 1944.3,364.8 C1949.5,356.6 1952.0,337.5 1955.9,326.0 C1959.1,316.6 1961.9,306.8 1965.6,300.8 C1968.0,296.9 1970.8,291.8 1973.4,292.1 C1976.7,292.4 1980.3,301.4 1983.1,308.6 C1987.5,319.9 1989.9,339.4 1992.8,355.1 C1995.7,371.1 1998.6,388.6 2000.5,403.6 C2002.2,416.6 2002.4,427.1 2004.0,440.0 C2005.8,454.6 2008.6,470.1 2011.2,486.5 C2014.1,504.8 2017.4,525.6 2020.5,544.7 C2023.6,563.2 2026.5,599.3 2029.8,599.4 C2032.8,599.5 2036.3,571.8 2039.2,556.3 C2042.6,538.4 2046.2,515.6 2048.5,498.2 C2050.3,484.2 2050.7,472.9 2052.3,460.0 C2054.0,446.8 2056.7,431.9 2058.4,420.0 C2059.8,410.4 2060.4,402.6 2061.8,393.8 C2063.2,384.9 2064.6,375.9 2066.8,367.0 C2069.0,358.0 2072.0,349.1 2075.2,340.2 C2078.5,331.2 2082.5,320.7 2086.2,313.4 C2088.9,308.0 2091.7,304.1 2094.3,300.0 C2096.5,296.5 2098.3,293.4 2100.5,290.5 C2102.5,287.9 2104.6,283.5 2107.0,283.4 C2109.7,283.3 2113.5,287.6 2115.9,291.2 C2119.1,295.9 2120.4,303.6 2122.6,310.2 C2124.9,317.3 2127.2,327.6 2129.3,332.5 C2130.4,335.1 2131.4,338.1 2132.6,338.1 C2134.3,338.0 2136.5,332.0 2138.2,327.0 C2141.4,317.8 2142.8,297.5 2146.6,285.8 C2149.6,276.5 2152.5,267.8 2157.6,261.8 C2162.0,256.6 2167.3,253.1 2174.2,250.8 C2183.1,247.9 2196.0,249.5 2207.4,248.9 C2219.3,248.3 2231.9,247.6 2244.2,247.1 C2256.5,246.7 2270.9,248.0 2281.0,246.2 C2288.3,244.9 2292.3,242.4 2299.5,239.7 C2309.7,235.9 2323.8,228.4 2336.3,225.0 C2348.4,221.7 2359.4,220.4 2373.1,219.5 C2390.4,218.3 2412.4,220.1 2432.0,220.4"/>
</g>
<g fill="none" stroke="#000" stroke-width="5.5" stroke-dasharray="10.5 16.3">
<ellipse cx="700.5" cy="638.0" rx="131.0" ry="525.0"/>
<ellipse cx="915.5" cy="433.5" rx="81.0" ry="304.5"/>
<ellipse cx="1177.5" cy="1182.5" rx="80.5" ry="493.5"/>
<ellipse cx="1832.0" cy="949.5" rx="100.0" ry="759.5"/>
</g>
<g fill="none" stroke="#000" stroke-width="4" stroke-linecap="butt" stroke-linejoin="miter">
<path d="M968.5,168.6 L1222,125.3"/>
<path d="M798,1028.5 L866.3,1213.8 L1092.3,1109"/>
<path d="M1576,1670 L1786.4,1601.7"/>
</g>
<rect x="129.7" y="25.8" width="2302.5" height="1813.6" fill="none" stroke="#000" stroke-width="7.5" stroke-linejoin="round"/>
<g stroke="#000" stroke-width="7" stroke-linecap="round"><line x1="385.5" y1="1839.4" x2="385.5" y2="1819.4"/><line x1="641.4" y1="1839.4" x2="641.4" y2="1803.4"/><line x1="897.2" y1="1839.4" x2="897.2" y2="1819.4"/><line x1="1153.0" y1="1839.4" x2="1153.0" y2="1803.4"/><line x1="1408.9" y1="1839.4" x2="1408.9" y2="1819.4"/><line x1="1664.7" y1="1839.4" x2="1664.7" y2="1803.4"/><line x1="1920.5" y1="1839.4" x2="1920.5" y2="1819.4"/><line x1="2176.4" y1="1839.4" x2="2176.4" y2="1803.4"/></g>
<text transform="translate(47.13,1935.20) scale(0.7413,0.7747)" font-size="100">1800</text>
<text transform="translate(558.79,1935.20) scale(0.7413,0.7747)" font-size="100">1600</text>
<text transform="translate(1070.46,1935.20) scale(0.7413,0.7747)" font-size="100">1400</text>
<text transform="translate(1582.13,1935.20) scale(0.7413,0.7747)" font-size="100">1200</text>
<text transform="translate(2093.79,1935.20) scale(0.7413,0.7747)" font-size="100">1000</text>
<text transform="translate(865.60,2096.50) scale(0.9004,0.9172)" font-size="100">Wavenumbers (cm</text>
<text transform="translate(1617.10,2047.00) scale(0.5130,0.5330)" font-size="100">-1</text>
<text transform="translate(1670.10,2095.80) scale(0.7660,0.8640)" font-size="100">)</text>
<text transform="translate(81.5,1281.5) rotate(-90) scale(0.8971,0.942)" font-size="100">Transmittance (%)</text>
<text transform="translate(1242.22,145.70) scale(0.5570,0.5750)" font-size="100">C=C aromatic stretch</text>
<text transform="translate(305.61,1270.30) scale(0.5576,0.5750)" font-size="100">C=O stretch (in &amp; out-of-phase)</text>
<text transform="translate(1099.32,1722.80) scale(0.5554,0.5750)" font-size="100">SOO symmetric stretch</text>
<rect x="159.9" y="1451" width="731.7" height="328.7" fill="#fff" stroke="#000" stroke-width="3.2"/>
<g stroke-width="9.5" stroke-linecap="round">
<line x1="196.8" y1="1510" x2="396.5" y2="1510" stroke="#000"/>
<line x1="196.8" y1="1619.5" x2="396.5" y2="1619.5" stroke="#ff0000"/>
<line x1="196.8" y1="1729.5" x2="396.5" y2="1729.5" stroke="#00008b"/>
</g>
<text transform="translate(420.00,1540.30) scale(0.9000,0.9244)" font-size="100">UiO-66</text>
<text transform="translate(420.08,1649.80) scale(0.8915,0.9302)" font-size="100">IL</text>
<text transform="translate(420.02,1759.20) scale(0.8973,0.9244)" font-size="100">IL@UiO-66</text>
</svg></body></html>
